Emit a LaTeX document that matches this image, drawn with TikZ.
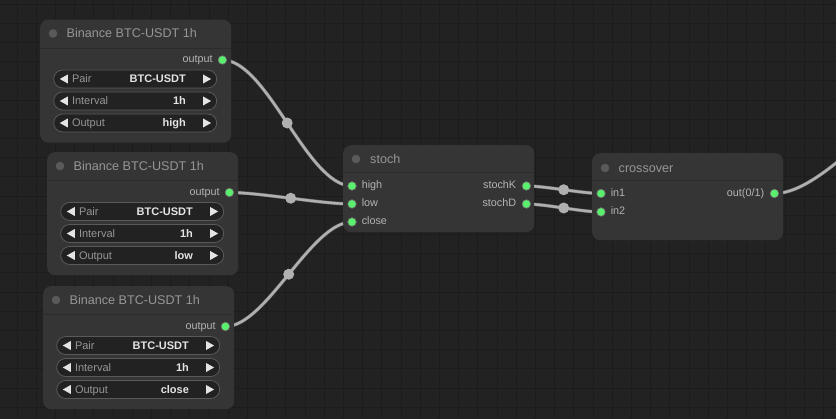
\documentclass[tikz,border=0pt]{standalone}
\usepackage{fontspec}
\setmainfont{Liberation Sans}
\usetikzlibrary{positioning,calc}
\definecolor{canvas}{RGB}{34,34,34}
\definecolor{gridline}{RGB}{28,28,28}
\definecolor{panel}{RGB}{53,53,53}
\definecolor{seam}{RGB}{44,44,44}
\definecolor{well}{RGB}{34,34,34}
\definecolor{rim}{RGB}{90,90,90}
\definecolor{knob}{RGB}{90,90,90}
\definecolor{dim}{RGB}{150,150,150}
\definecolor{soft}{RGB}{180,180,180}
\definecolor{bright}{RGB}{228,228,228}
\definecolor{jack}{RGB}{90,240,110}
\definecolor{wire}{RGB}{176,176,176}
\pgfdeclarelayer{canvas}
\pgfdeclarelayer{wires}
\pgfsetlayers{canvas,wires,main}
\tikzset{
  panelbox/.style={fill=panel,rounded corners=8pt,anchor=north west,inner sep=0pt,
    minimum width=191pt,minimum height=#1},
  panelbox/.default=123pt,
  seamline/.style={draw=seam,line width=1pt},
  headtxt/.style={anchor=west,inner sep=0pt,text=dim,text height=9pt,text depth=0pt,
    font=\fontsize{12.6}{14}\selectfont},
  porttxt/.style={inner sep=0pt,text=soft,text height=5.8pt,text depth=0pt,
    font=\fontsize{10.8}{12}\selectfont},
  jack/.style={circle,fill=jack,draw=black!55,line width=0.6pt,minimum size=8.5pt,inner sep=0pt},
  widget/.style={draw=rim,fill=well,rounded corners=9pt,line width=0.8pt,
    minimum width=163pt,minimum height=18pt,inner sep=0pt},
  wtxt/.style={inner sep=0pt,text=dim,text height=7.9pt,text depth=0pt,
    font=\fontsize{11}{12}\selectfont},
  wval/.style={wtxt,text=bright,font=\fontsize{11}{12}\selectfont\bfseries},
  link/.style={draw=black!55,line width=0.5pt,double=wire,double distance=2.4pt},
  midpt/.style={circle,fill=wire,minimum size=11pt,inner sep=0pt},
}

\begin{document}
\begin{tikzpicture}[x=1pt,y=-1pt]
  \useasboundingbox (0,0) rectangle (836,419);
  \begin{pgfonlayer}{canvas}
    \fill[canvas] (0,0) rectangle (836,419);
    \foreach \gx in {17,36.2,...,836} \draw[gridline,line width=0.8pt] (\gx,0) -- (\gx,419);
    \foreach \gy in {4,23.2,...,419} \draw[gridline,line width=0.8pt] (0,\gy) -- (836,\gy);
  \end{pgfonlayer}

  % data sources
  \foreach \i/\px/\py/\val in {1/40/19.5/high,2/47/152/low,3/43/286/close}{
    \node[panelbox] (src\i) at (\px,\py) {};
    \draw[seamline] ($(src\i.north west)+(0,29)$) -- ($(src\i.north east)+(0,29)$);
    \fill[knob] ($(src\i.north west)+(13,14)$) circle (4.3);
    \node[headtxt] (src\i-title) at ($(src\i.north west)+(26.5,14)$) {Binance BTC-USDT 1h};
    \node[jack] (src\i-out) at ($(src\i.north east)+(-9,40.5)$) {};
    \node[porttxt,left=5pt of src\i-out] (src\i-outlbl) {output};
    \foreach \wl/\wv [count=\j] in {Pair/BTC-USDT,Interval/1h,Output/\val}{
      \node[widget] (src\i-w\j) at ($(src\i.north)+(-0.5,37.5+22*\j)$) {};
      \fill[bright] ($(src\i-w\j.west)+(6.5,0)$) -- ++(8,-4.5) -- ++(0,9) -- cycle;
      \fill[bright] ($(src\i-w\j.east)+(-6,0)$) -- ++(-8,-4.5) -- ++(0,9) -- cycle;
      \node[wtxt,anchor=west] at ($(src\i-w\j.west)+(18.5,0)$) {\wl};
      \node[wval,anchor=east] at ($(src\i-w\j.east)+(-31,0)$) {\wv};
    }
  }

  % indicator
  \node[panelbox=87pt] (stoch) at (343,145) {};
  \draw[seamline] ($(stoch.north west)+(0,28)$) -- ($(stoch.north east)+(0,28)$);
  \fill[knob] ($(stoch.north west)+(13,14)$) circle (4.3);
  \node[headtxt] (stoch-title) at ($(stoch.north west)+(27,14)$) {stoch};
  \foreach \p/\dy in {high/41,low/59,close/77}{
    \node[jack] (stoch-\p) at ($(stoch.north west)+(9,\dy)$) {};
    \node[porttxt,right=5pt of stoch-\p] {\p};
  }
  \foreach \p/\dy in {stochK/41,stochD/59}{
    \node[jack] (stoch-\p) at ($(stoch.north east)+(-8,\dy)$) {};
    \node[porttxt,left=5.5pt of stoch-\p] {\p};
  }

  % signal
  \node[panelbox=87pt] (cross) at (592,153) {};
  \draw[seamline] ($(cross.north west)+(0,28)$) -- ($(cross.north east)+(0,28)$);
  \fill[knob] ($(cross.north west)+(13,15)$) circle (4.3);
  \node[headtxt] (cross-title) at ($(cross.north west)+(26.5,15)$) {crossover};
  \foreach \p/\dy in {in1/40.5,in2/59}{
    \node[jack] (cross-\p) at ($(cross.north west)+(9,\dy)$) {};
    \node[porttxt,right=5pt of cross-\p] {\p};
  }
  \node[jack] (cross-out) at ($(cross.north east)+(-9,40.5)$) {};
  \node[porttxt,left=5.5pt of cross-out] {out(0/1)};
  \coordinate (sink) at (960,80);

  \begin{pgfonlayer}{wires}
    \clip (0,0) rectangle (836,419);
    \draw[link] (src1-out.center) .. controls +(45,0) and +(-45,0) .. (stoch-high.center)
      node[midpt,pos=0.5] {};
    \draw[link] (src2-out.center) .. controls +(31,0) and +(-31,0) .. (stoch-low.center)
      node[midpt,pos=0.5] {};
    \draw[link] (src3-out.center) .. controls +(41,0) and +(-41,0) .. (stoch-close.center)
      node[midpt,pos=0.5] {};
    \draw[link] (stoch-stochK.center) .. controls +(19,0) and +(-19,0) .. (cross-in1.center)
      node[midpt,pos=0.5] {};
    \draw[link] (stoch-stochD.center) .. controls +(19,0) and +(-19,0) .. (cross-in2.center)
      node[midpt,pos=0.5] {};
    \draw[link] (cross-out.center) .. controls +(55,0) and +(-55,0) .. (sink);
  \end{pgfonlayer}
\end{tikzpicture}
\end{document}
